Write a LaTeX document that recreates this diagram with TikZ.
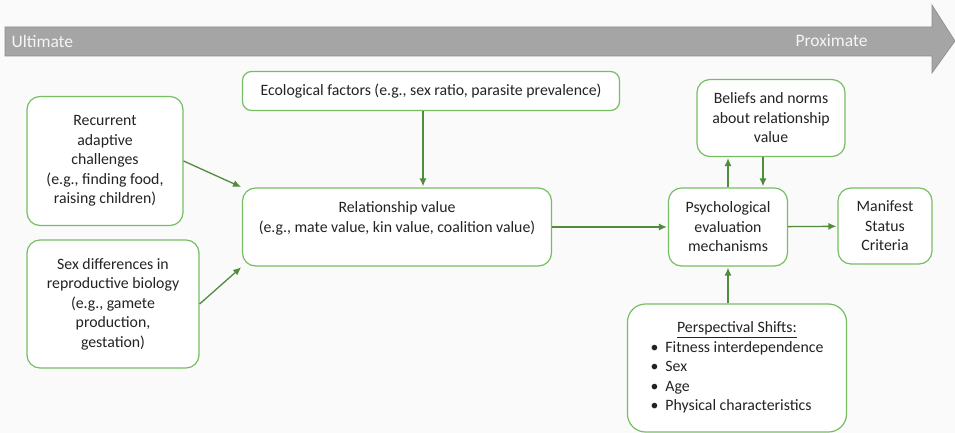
\documentclass[tikz,border=0pt]{standalone}
\usepackage{fontspec}
\setmainfont{Carlito}
\usepackage{tikz}
\usetikzlibrary{arrows,arrows.meta,shapes,positioning}

\definecolor{boxline}{RGB}{118,190,98}
\definecolor{linkgreen}{RGB}{80,140,60}
\definecolor{arrowgray}{RGB}{165,165,165}
\definecolor{txt}{RGB}{35,35,35}
\definecolor{bgc}{RGB}{250,250,250}

\begin{document}
\begin{tikzpicture}[x=1pt,y=-1pt,
    box/.style={draw=boxline, line width=1.2pt, rounded corners=13pt, fill=white,
        align=center, inner sep=3pt, text=txt, font=\fontsize{15.8}{19.5}\selectfont},
    link/.style={-{Latex[length=8pt,width=7pt]}, draw=linkgreen, line width=1.3pt, shorten >=1pt}]
    \useasboundingbox[fill=bgc] (0,0) rectangle (955,433);

    % ultimate -> proximate band
    \filldraw[fill=arrowgray, draw=arrowgray!85!black, line width=0.6pt]
        (5,27) -- (932,27) -- (932,5) -- (955,41) -- (932,73) -- (932,56) -- (5,56) -- cycle;
    \node[anchor=west, text=white!92!gray, font=\fontsize{17.5}{20}\selectfont] (ult) at (8,41) {Ultimate};
    \node[anchor=east, text=white!92!gray, font=\fontsize{17.5}{20}\selectfont] (prox) at (871,41) {Proximate};

    % boxes
    \node[box, minimum width=156pt, minimum height=129pt] (rec) at (105,161)
        {Recurrent\\adaptive\\challenges\\(e.g., finding food,\\raising children)};
    \node[box, minimum width=172pt, minimum height=128pt] (sex) at (113,304)
        {Sex differences in\\reproductive biology\\(e.g., gamete\\production,\\gestation)};
    \node[box, rounded corners=9pt, minimum width=377pt, minimum height=39pt] (eco) at (431,91)
        {Ecological factors (e.g., sex ratio, parasite prevalence)};
    \node[box, minimum width=309pt, minimum height=78pt] (rel) at (397,227)
        {Relationship value\\(e.g., mate value, kin value, coalition value)\\\mbox{}};
    \node[box, minimum width=148pt, minimum height=77pt] (bel) at (771,118)
        {Beliefs and norms\\about relationship\\value};
    \node[box, minimum width=119pt, minimum height=78pt] (psy) at (728,227)
        {Psychological\\evaluation\\mechanisms};
    \node[box, minimum width=94pt, minimum height=76pt] (man) at (885,226)
        {Manifest\\Status\\Criteria};
    \node[box, rounded corners=18pt, minimum width=219pt, minimum height=128pt] (per) at (737,368)
        {\renewcommand{\arraystretch}{1}%
        \begin{tabular}{@{}l@{}}
            \multicolumn{1}{@{}c@{}}{\underline{Perspectival Shifts:}}\\
            \textbullet\hspace{7pt}Fitness interdependence\\
            \textbullet\hspace{7pt}Sex\\
            \textbullet\hspace{7pt}Age\\
            \textbullet\hspace{7pt}Physical characteristics
        \end{tabular}};

    % connectors
    \coordinate (ecodn) at ([xshift=-8pt]eco.south);
    \coordinate (beldn) at ([xshift=35pt]psy.north);
    \draw[link] (rec.east) -- (rel.north west);
    \draw[link] (sex.east) -- (rel.south west);
    \draw[link] (ecodn) -- (ecodn |- rel.north);
    \draw[link] (rel) -- (psy);
    \draw[link] (psy.north) -- (psy.north |- bel.south);
    \draw[link] (beldn |- bel.south) -- (beldn);
    \draw[link] (psy) -- (man);
    \draw[link] (psy.south |- per.north) -- (psy.south);
\end{tikzpicture}
\end{document}
